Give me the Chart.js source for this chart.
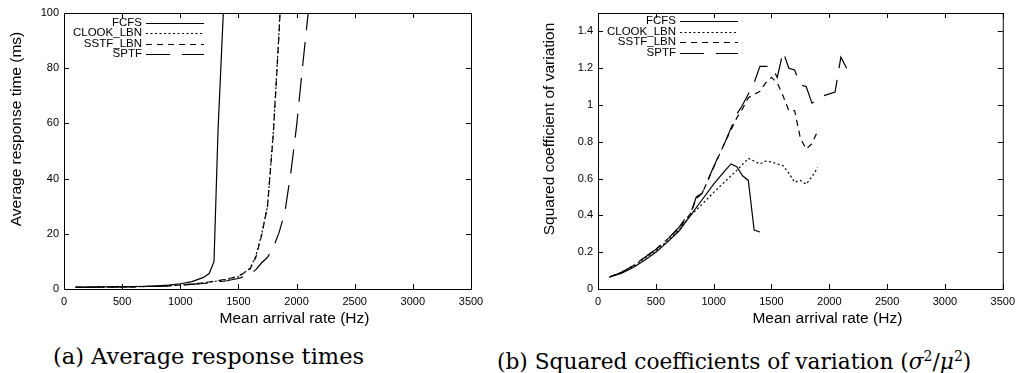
<!DOCTYPE html>
<html>
<head>
<meta charset="utf-8">
<script src="https://cdn.jsdelivr.net/npm/chart.js@4.4.1/dist/chart.umd.min.js"></script>
<style>
  body { margin: 0; background: #fff; width: 1021px; height: 373px; overflow: hidden; position: relative; }
  .box { position: absolute; top: 0; height: 330px; }
  #boxA { left: 0; width: 510px; }
  #boxB { left: 510px; width: 511px; }
  .cap { position: absolute; top: 343px; font-family: "DejaVu Serif", serif; font-size: 22.5px; line-height: 26px; white-space: nowrap; color: #000; }
  .cap sup { font-size: 14px; }
  #capA { left: 53px; }
  #capB { left: 497px; font-size: 21.7px; }
</style>
</head>
<body>
<div class="box" id="boxA"><canvas id="respChart"></canvas></div>
<div class="box" id="boxB"><canvas id="cvChart"></canvas></div>
<div class="cap" id="capA">(a) Average response times</div>
<div class="cap" id="capB">(b) Squared coefficients of variation (<i>σ</i><sup>2</sup>/<i>μ</i><sup>2</sup>)</div>
<script>
// (a) average response time (ms) vs mean arrival rate (Hz)
const rateFcfsA = [100, 200, 300, 400, 500, 600, 700, 800, 900, 1000, 1100, 1200, 1250, 1290, 1325, 1370, 1400];
const respFcfsA = [0.7, 0.72, 0.75, 0.8, 0.85, 0.9, 1.0, 1.15, 1.4, 1.9, 2.7, 4.2, 5.7, 10, 58, 100, 118];

const rateLbnA = [100, 200, 300, 400, 500, 600, 700, 800, 900, 1000, 1100, 1200, 1300, 1400, 1500, 1600, 1650, 1700, 1750, 1800, 1850, 1900];
const respClookA = [0.6, 0.62, 0.65, 0.7, 0.75, 0.8, 0.9, 1.0, 1.2, 1.45, 1.8, 2.2, 2.8, 3.5, 4.4, 7.5, 12, 20, 30, 57, 94, 140];
const respSstfA = [0.6, 0.62, 0.65, 0.7, 0.75, 0.8, 0.9, 1.0, 1.2, 1.45, 1.8, 2.2, 2.9, 3.6, 4.6, 7.2, 11.5, 19.5, 30, 56, 93, 138];

const rateSptfA = [100, 200, 300, 400, 500, 600, 700, 800, 900, 1000, 1100, 1200, 1300, 1400, 1500, 1600, 1650, 1700, 1750, 1800, 1850, 1900, 1950, 2000, 2050, 2100, 2150];
const respSptfA = [0.6, 0.62, 0.65, 0.7, 0.75, 0.8, 0.88, 0.98, 1.15, 1.4, 1.7, 2.0, 2.4, 3.0, 3.8, 5.3, 7, 9.5, 11.5, 15, 20.5, 28, 42, 59, 80, 100, 122];

// (b) squared coefficient of variation vs mean arrival rate (Hz)
const rateFcfsB = [100, 200, 300, 400, 500, 600, 700, 800, 900, 1000, 1100, 1150, 1200, 1250, 1300, 1350, 1400];
const cvFcfsB = [0.065, 0.085, 0.115, 0.155, 0.2, 0.255, 0.315, 0.4, 0.485, 0.57, 0.645, 0.68, 0.665, 0.615, 0.59, 0.32, 0.31];

const rateClookB = [100, 200, 300, 400, 500, 600, 700, 800, 900, 1000, 1100, 1200, 1300, 1400, 1450, 1500, 1550, 1600, 1650, 1700, 1750, 1800, 1850, 1900];
const cvClookB = [0.065, 0.09, 0.12, 0.165, 0.21, 0.26, 0.32, 0.4, 0.46, 0.525, 0.585, 0.645, 0.71, 0.68, 0.695, 0.69, 0.68, 0.67, 0.63, 0.58, 0.59, 0.57, 0.61, 0.66];

const rateSstfB = [100, 200, 300, 400, 500, 600, 700, 750, 800, 850, 900, 1000, 1100, 1200, 1250, 1300, 1400, 1450, 1500, 1550, 1600, 1650, 1700, 1750, 1800, 1850, 1900];
const cvSstfB = [0.065, 0.09, 0.125, 0.17, 0.215, 0.27, 0.33, 0.37, 0.41, 0.49, 0.52, 0.66, 0.8, 0.93, 0.98, 1.04, 1.075, 1.12, 1.15, 1.12, 1.05, 0.97, 0.97, 0.82, 0.76, 0.79, 0.86];

const rateSptfB = [100, 200, 300, 400, 500, 600, 700, 750, 800, 850, 900, 1000, 1100, 1200, 1250, 1300, 1350, 1400, 1500, 1550, 1600, 1650, 1700, 1750, 1800, 1850, 1950, 2050, 2100, 2150];
const cvSptfB = [0.065, 0.09, 0.125, 0.17, 0.215, 0.27, 0.335, 0.38, 0.41, 0.5, 0.52, 0.665, 0.8, 0.95, 1.0, 1.06, 1.12, 1.21, 1.21, 1.15, 1.29, 1.2, 1.19, 1.11, 1.1, 1.01, 1.05, 1.07, 1.26, 1.2];

const seriesNames = ['FCFS', 'CLOOK_LBN', 'SSTF_LBN', 'SPTF'];
const seriesDash = [[], [2, 2.5], [6, 5], [24, 12]];

Chart.defaults.font.family = '"Liberation Sans", Arial, sans-serif';
Chart.defaults.color = '#000';

function pairs(xs, ys) {
    return xs.map((x, i) => ({ x: x, y: ys[i] }));
}

function makeSets(list) {
    return list.map((pts, i) => ({
        label: seriesNames[i],
        data: pts,
        borderColor: '#000',
        borderWidth: 1.2,
        borderDash: seriesDash[i],
        pointRadius: 0,
        fill: false,
        tension: 0
    }));
}

// gnuplot look: frame, inward ticks on all sides, key at top left, axis titles
const gnuplotFrame = {
    id: 'gnuplotFrame',
    afterDatasetsDraw(chart, args, opts) {
        const { ctx, chartArea: a, scales } = chart;
        ctx.save();
        ctx.strokeStyle = '#000';
        ctx.lineWidth = 1;
        ctx.setLineDash([]);
        ctx.strokeRect(a.left + 0.5, a.top + 0.5, a.right - a.left, a.bottom - a.top);
        ctx.beginPath();
        scales.x.ticks.forEach(t => {
            const px = Math.round(scales.x.getPixelForValue(t.value)) + 0.5;
            ctx.moveTo(px, a.bottom); ctx.lineTo(px, a.bottom - 5);
            ctx.moveTo(px, a.top); ctx.lineTo(px, a.top + 5);
        });
        scales.y.ticks.forEach(t => {
            const py = Math.round(scales.y.getPixelForValue(t.value)) + 0.5;
            ctx.moveTo(a.left, py); ctx.lineTo(a.left + 5, py);
            ctx.moveTo(a.right, py); ctx.lineTo(a.right - 5, py);
        });
        ctx.stroke();

        // key
        ctx.font = '11.5px "Liberation Sans", Arial, sans-serif';
        ctx.textAlign = 'right';
        ctx.textBaseline = 'middle';
        ctx.fillStyle = '#000';
        chart.data.datasets.forEach((ds, i) => {
            const y = a.top + opts.keyTop + i * 10.6;
            ctx.fillText(ds.label, a.left + 78, y);
            ctx.beginPath();
            ctx.lineWidth = 1.2;
            ctx.setLineDash(ds.borderDash);
            ctx.moveTo(a.left + 82, Math.round(y) + 0.5);
            ctx.lineTo(a.left + 140, Math.round(y) + 0.5);
            ctx.stroke();
        });
        ctx.setLineDash([]);

        // axis titles
        ctx.font = '15.5px "Liberation Sans", Arial, sans-serif';
        ctx.textAlign = 'center';
        ctx.fillText(opts.xTitle, (a.left + a.right) / 2 + 27, a.bottom + 30);
        ctx.translate(a.left - opts.yGap, (a.top + a.bottom) / 2 - 22);
        ctx.rotate(-Math.PI / 2);
        ctx.fillText(opts.yTitle, 0, 0);
        ctx.restore();
    }
};

function baseOptions(yMax, yStep, yWidth, xTitle, yTitle, yGap, keyTop, rightPad) {
    return {
        responsive: true,
        maintainAspectRatio: false,
        animation: false,
        devicePixelRatio: 1,
        layout: { padding: { left: 0, right: rightPad, top: 13, bottom: 0 } },
        plugins: {
            legend: { display: false },
            tooltip: { enabled: false },
            gnuplotFrame: { xTitle: xTitle, yTitle: yTitle, yGap: yGap, keyTop: keyTop }
        },
        scales: {
            x: {
                type: 'linear',
                min: 0,
                max: 3500,
                grid: { display: false, drawTicks: false },
                border: { display: false },
                ticks: { stepSize: 500, font: { size: 11 }, padding: 6, maxRotation: 0, callback: v => String(v) },
                afterFit: s => { s.height = 41; }
            },
            y: {
                min: 0,
                max: yMax,
                grid: { display: false, drawTicks: false },
                border: { display: false },
                ticks: {
                    stepSize: yStep,
                    font: { size: 11 },
                    padding: 5,
                    callback: v => String(Number(v.toFixed(1)))
                },
                afterBuildTicks: s => { s.ticks = s.ticks.filter(t => t.value <= yMax - yStep / 2 + 1e-9 || yMax % yStep === 0); },
                afterFit: s => { s.width = yWidth; }
            }
        }
    };
}

const respChart = new Chart(document.getElementById('respChart'), {
    type: 'line',
    data: {
        datasets: makeSets([
            pairs(rateFcfsA, respFcfsA),
            pairs(rateLbnA, respClookA),
            pairs(rateLbnA, respSstfA),
            pairs(rateSptfA, respSptfA)
        ])
    },
    plugins: [gnuplotFrame],
    options: baseOptions(100, 20, 64, 'Mean arrival rate (Hz)', 'Average response time (ms)', 47, 9.5, 39)
});

const cvChart = new Chart(document.getElementById('cvChart'), {
    type: 'line',
    data: {
        datasets: makeSets([
            pairs(rateFcfsB, cvFcfsB),
            pairs(rateClookB, cvClookB),
            pairs(rateSstfB, cvSstfB),
            pairs(rateSptfB, cvSptfB)
        ])
    },
    plugins: [gnuplotFrame],
    options: baseOptions(1.5, 0.2, 88, 'Mean arrival rate (Hz)', 'Squared coefficient of variation', 48, 8, 16)
});
</script>
</body>
</html>
